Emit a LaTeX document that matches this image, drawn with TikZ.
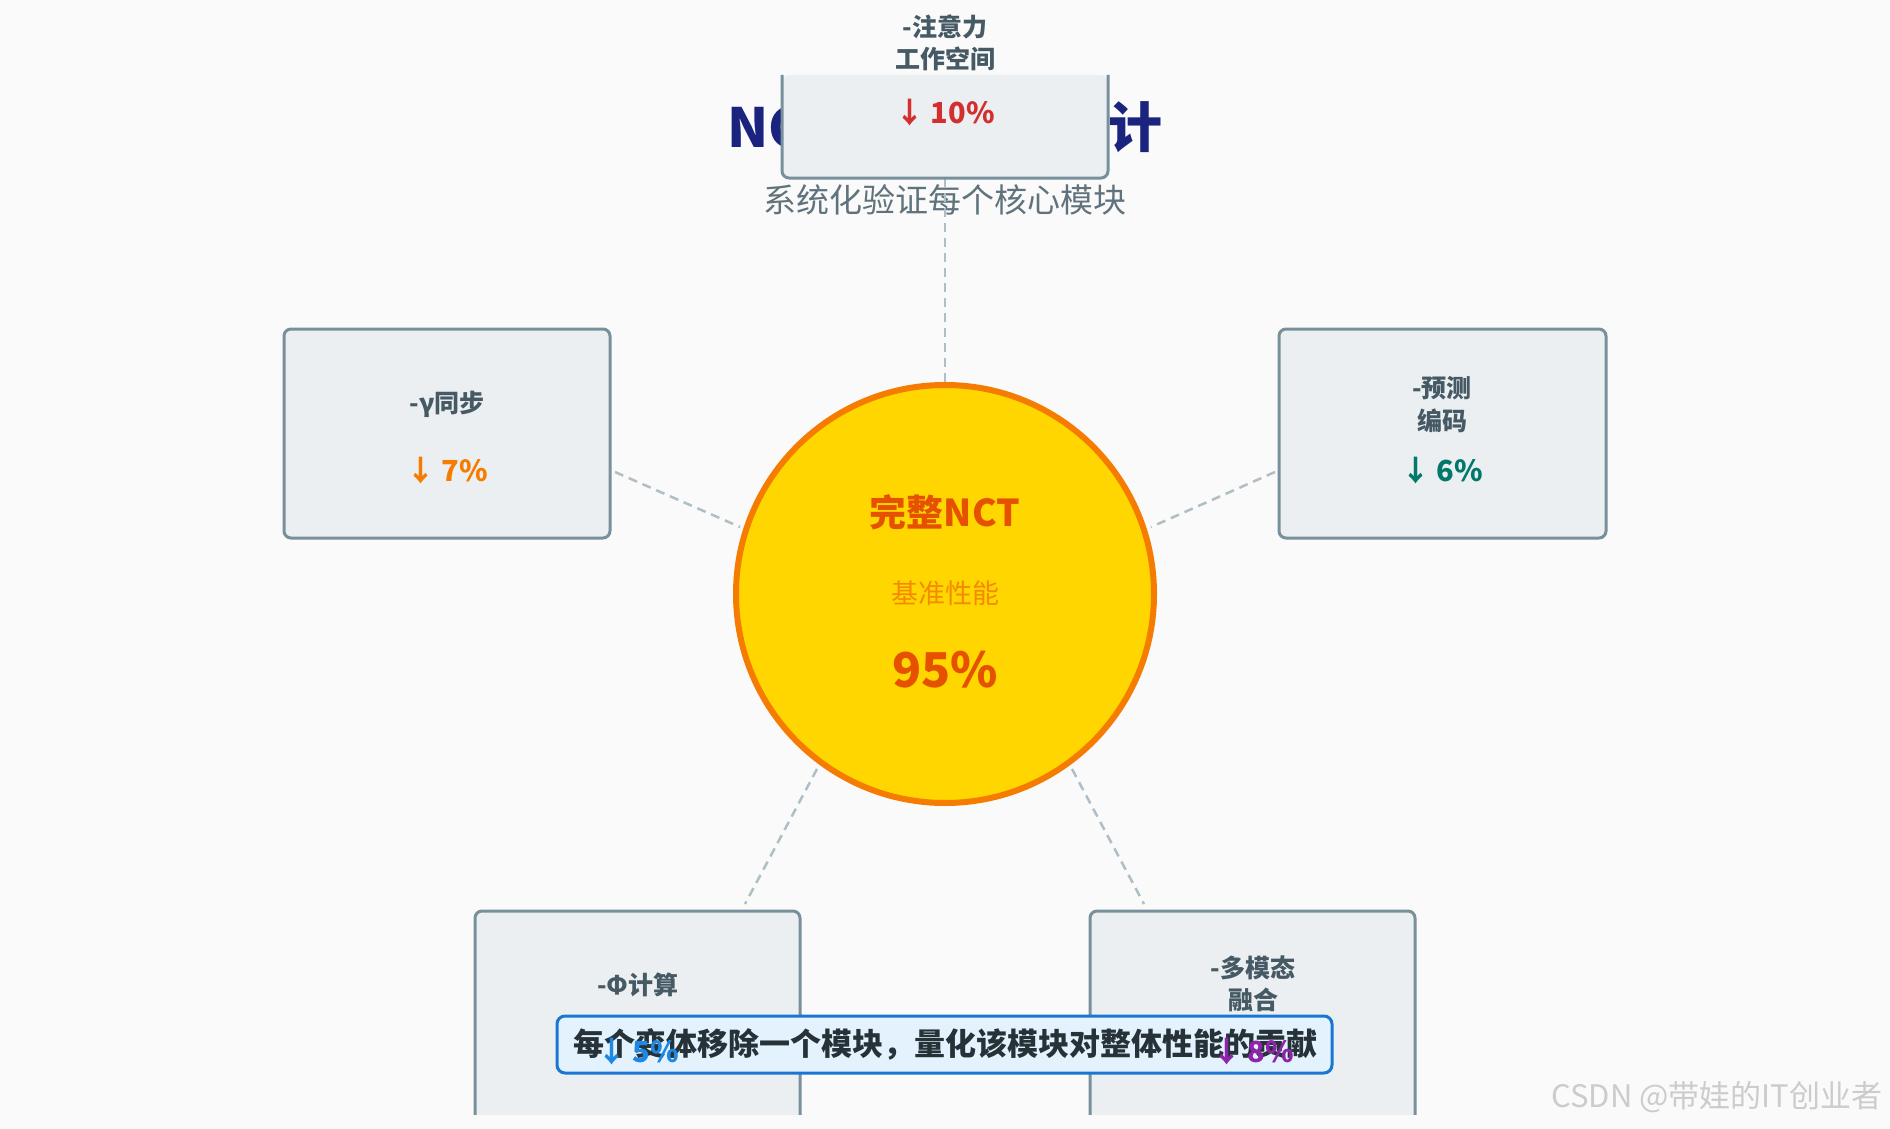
\documentclass[tikz,border=0pt]{standalone}
\usepackage{fontspec}
\setmainfont{Noto Sans CJK SC}
\definecolor{bg}{HTML}{FAFAFA}
\definecolor{boxfill}{HTML}{ECEFF1}
\definecolor{boxline}{HTML}{78909C}
\definecolor{txt}{HTML}{455A64}
\definecolor{navy}{HTML}{1A237E}
\definecolor{dash}{HTML}{B0BEC5}
\definecolor{orng}{HTML}{F57C00}
\definecolor{deep}{HTML}{E65100}
\begin{document}
\begin{tikzpicture}[x=1pt,y=-1pt,
  mod/.style={fill=boxfill,draw=boxline,line width=3pt,rounded corners=7pt},
  lab/.style={font=\bfseries\fontsize{25}{32}\selectfont,text=txt,align=center},
  pct/.style={font=\bfseries\fontsize{29}{34}\selectfont},
  link/.style={draw=dash,line width=2.5pt,dash pattern=on 9pt off 6pt}]
\fill[bg] (0,0) rectangle (1890,1129);
\useasboundingbox (0,0) rectangle (1890,1129);
% title
\node[font=\bfseries\fontsize{54}{60}\selectfont,text=navy] (title) at (945,127) {NCT消融实验设计};
\node[font=\fontsize{33}{38}\selectfont,text=boxline!80!black] (sub) at (945,200) {系统化验证每个核心模块};
% connectors
\coordinate (t1) at (945,178); \coordinate (t2) at (945,383);
\coordinate (l1) at (615,472); \coordinate (l2) at (740,527);
\coordinate (r1) at (1275,472); \coordinate (r2) at (1151,527);
\coordinate (bl1) at (817,769); \coordinate (bl2) at (745,904);
\coordinate (br1) at (1072,769); \coordinate (br2) at (1144,904);
\draw[link] (t1) -- (t2); \draw[link] (l1) -- (l2); \draw[link] (r1) -- (r2);
\draw[link] (bl1) -- (bl2); \draw[link] (br1) -- (br2);
% top box (open top)
\fill[boxfill,rounded corners=7pt] (782,75) |- (1108,178) -- (1108,75) -- cycle;
\draw[boxline,line width=3pt,rounded corners=7pt] (782,75) -- (782,178) -- (1108,178) -- (1108,75);
\node[lab] (ta) at (945,27) {-注意力};
\node[lab] (tb) at (945,59) {工作空间};
\node[pct,text={rgb,255:red,211;green,47;blue,47}] (tp) at (945,113) {↓ 10\%};
% circle
\node[circle,minimum size=418pt,fill={rgb,255:red,255;green,214;blue,0},draw=orng,line width=6pt] (c) at (945,594) {};
\node[font=\bfseries\fontsize{37}{40}\selectfont,text=deep] (c1) at (945,512) {完整NCT};
\node[font=\fontsize{27}{30}\selectfont,text=orng!90!yellow] (c2) at (945,593) {基准性能};
\node[font=\bfseries\fontsize{48}{52}\selectfont,text=deep] (c3) at (945,670) {95\%};
% left
\draw[mod] (284,329) rectangle (610,538);
\node[lab] (la) at (447,404) {-γ同步};
\node[pct,text=orng] (lp) at (447,471) {↓ 7\%};
% right
\draw[mod] (1279,329) rectangle (1606,538);
\node[lab] (ra) at (1442,388) {-预测};
\node[lab] (rb) at (1442,421) {编码};
\node[pct,text={rgb,255:red,0;green,121;blue,107}] (rp) at (1442,471) {↓ 6\%};
% bottom boxes (open bottom)
\fill[boxfill,rounded corners=7pt] (475,911) rectangle (800,1129);
\draw[boxline,line width=3pt,rounded corners=7pt] (475,1115) -- (475,911) -- (800,911) -- (800,1115);
\node[lab] (ba) at (638,985) {-Φ计算};
\fill[boxfill,rounded corners=7pt] (1090,911) rectangle (1415,1129);
\draw[boxline,line width=3pt,rounded corners=7pt] (1090,1115) -- (1090,911) -- (1415,911) -- (1415,1115);
\node[lab] (ma) at (1253,968) {-多模态};
\node[lab] (mb) at (1253,1000) {融合};
\fill[bg] (0,1115) rectangle (1890,1129);
% banner
\draw[fill={rgb,255:red,227;green,242;blue,253},draw={rgb,255:red,25;green,118;blue,210},line width=3pt,rounded corners=8pt] (557,1016) rectangle (1332,1073);
\node[font=\bfseries\fontsize{31}{34}\selectfont,text={rgb,255:red,38;green,50;blue,56}] (ban) at (945,1044) {每个变体移除一个模块，量化该模块对整体性能的贡献};
\node[pct,text={rgb,255:red,30;green,136;blue,229}] (bp) at (638,1052) {↓ 5\%};
\node[pct,text={rgb,255:red,142;green,36;blue,170}] (mp) at (1253,1052) {↓ 8\%};
% watermark
\node[font=\fontsize{31}{34}\selectfont,text=gray!40,anchor=east] (wm) at (1886,1097) {CSDN @带娃的IT创业者};
\end{tikzpicture}
\end{document}
